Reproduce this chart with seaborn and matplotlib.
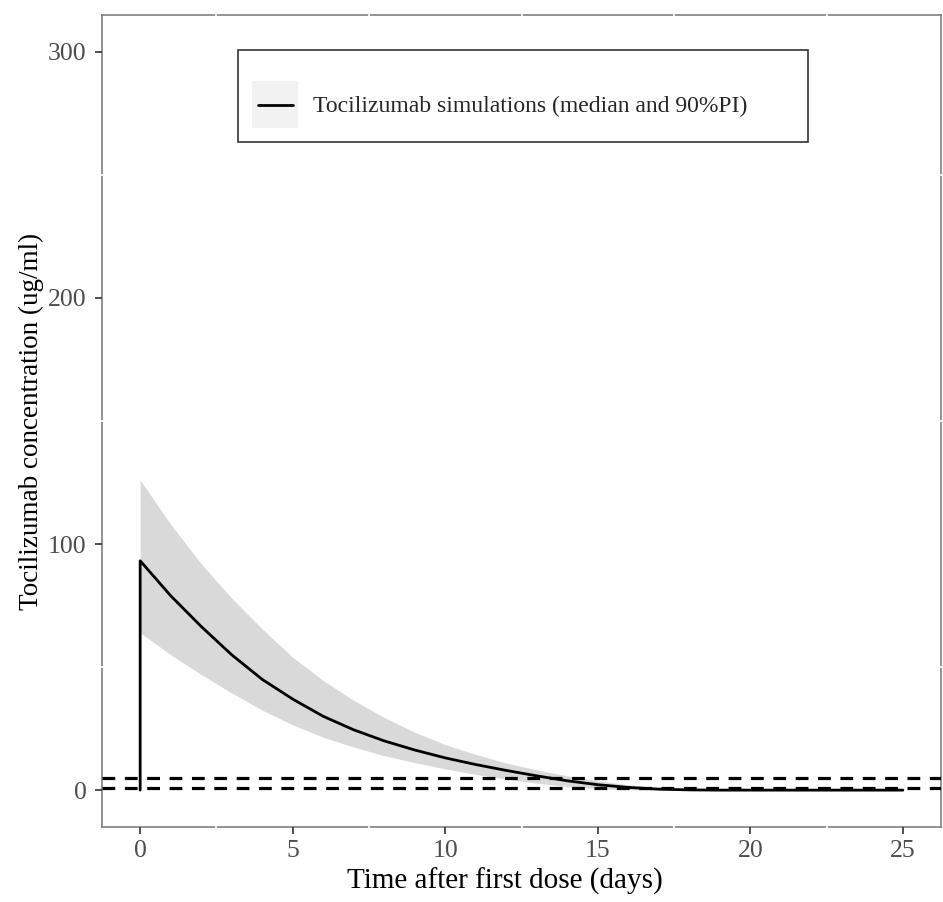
import numpy as np
import pandas as pd
import matplotlib
matplotlib.use("Agg")
import matplotlib.pyplot as plt
import seaborn as sns
from matplotlib.patches import Rectangle
from matplotlib.lines import Line2D
from matplotlib.ticker import MultipleLocator

# values (days, ug/ml)
time = [0, 0, 1, 2, 3, 4, 5, 6, 7, 8, 9, 10, 11, 12, 13,
        14, 15, 16, 17, 18, 19, 20, 25]
median = [0, 93.2, 79, 66.5, 55, 45, 37, 30, 24.5, 20, 16.3, 13.1, 10.4, 8.0, 5.8,
          3.8, 2.2, 1.1, 0.4, 0.1, 0, 0, 0]

band_time = [0, 1, 2, 3, 4, 5, 6, 7, 8, 9, 10, 11, 12, 13,
             14, 15, 16, 17, 18, 19, 20, 25]
upper = [126, 108, 92, 78, 65.5, 54, 44.5, 36.5, 29.5, 23.5, 18.5, 14.5, 11.0, 8.2,
         5.8, 3.8, 2.2, 1.0, 0.3, 0, 0, 0]
lower = [64, 55, 47, 39.5, 32.5, 26.5, 21.5, 17.5, 14, 11.2, 8.6, 6.4, 4.5, 2.8,
         1.5, 0.6, 0.15, 0, 0, 0, 0, 0]

thresholds = [5, 1]


class KeyHandler:
    # grey square with the median line through its middle, like the ggplot key
    def legend_artist(self, legend, orig_handle, fontsize, handlebox):
        x0, y0 = -handlebox.xdescent, -handlebox.ydescent
        w, h = handlebox.width, handlebox.height
        tr = handlebox.get_transform()
        bg = Rectangle((x0, y0), w, h, facecolor="#f2f2f2", edgecolor="none",
                       transform=tr)
        ln = Line2D([x0 + 0.13 * w, x0 + 0.89 * w], [y0 + h / 2, y0 + h / 2],
                    color="black", linewidth=2.0, transform=tr)
        handlebox.add_artist(bg)
        handlebox.add_artist(ln)
        return bg


sns.set_theme(style="white")
plt.rcParams['font.family'] = ['Liberation Serif', 'DejaVu Serif']

df = pd.DataFrame({"time": time, "conc": median})

fig = plt.figure(figsize=(9.43, 9.02), dpi=100)
ax = fig.add_axes([0.1082, 0.0831, 0.8897, 0.9003])

ax.fill_between(band_time, lower, upper, color="#d9d9d9", linewidth=0, zorder=1)
sns.lineplot(data=df, x="time", y="conc", color="black", linewidth=2.0,
             estimator=None, sort=False, ax=ax, zorder=3)
for t in thresholds:
    ax.axhline(t, color="black", linewidth=2.3, dashes=(4.0, 3.0), zorder=4)

ax.set_xlim(-1.25, 26.25)
ax.set_ylim(-15, 315)
ax.xaxis.set_major_locator(MultipleLocator(5))
ax.yaxis.set_major_locator(MultipleLocator(100))
ax.xaxis.set_minor_locator(MultipleLocator(2.5))
ax.yaxis.set_minor_locator(MultipleLocator(50))

for s in ax.spines.values():
    s.set_color("#808080")
    s.set_linewidth(1.2)

# ticks above the border; white minor ticks give the little gaps of ggplot's grid
ax.xaxis.set_zorder(5)
ax.yaxis.set_zorder(5)
ax.tick_params(which="major", direction="out", length=5, width=1.2,
               color="#333333", labelcolor="#4d4d4d", labelsize=18.5,
               bottom=True, left=True)
ax.tick_params(axis="y", which="major", pad=6)
ax.tick_params(axis="x", which="major", pad=4)
ax.tick_params(which="minor", direction="inout", length=2, width=1.2,
               color="white", bottom=True, left=True, top=True, right=True)

top = ax.secondary_xaxis("top")
top.xaxis.set_major_locator(MultipleLocator(5))
top.tick_params(direction="inout", length=2, width=1.2, color="white",
                labeltop=False)
top.spines["top"].set_visible(False)
right = ax.secondary_yaxis("right")
right.yaxis.set_major_locator(MultipleLocator(100))
right.tick_params(direction="inout", length=2, width=1.2, color="white",
                  labelright=False)
right.spines["right"].set_visible(False)

ax.set_xlabel("Time after first dose (days)", fontsize=21, color="black")
ax.set_ylabel("Tocilizumab concentration (ug/ml)", fontsize=19.5, color="black")
ax.xaxis.set_label_coords(0.48, -0.05)
ax.yaxis.set_label_coords(-0.069, 0.5)

# blank title keeps the empty space above the key like ggplot does
leg = ax.legend(["key"], ["Tocilizumab simulations (median and 90%PI)"],
                handler_map={str: KeyHandler()},
                loc="upper left", bbox_to_anchor=(0.1621, 0.846, 0.6794, 0.1108),
                mode="expand", frameon=True, fancybox=False, fontsize=17,
                title=" ", title_fontsize=4,
                borderpad=0.6, handlelength=1.95, handleheight=2.7,
                handletextpad=0.64, borderaxespad=0)
leg.get_frame().set_edgecolor("black")
leg.get_frame().set_linewidth(1.2)

fig.savefig("out.png", dpi=100)
